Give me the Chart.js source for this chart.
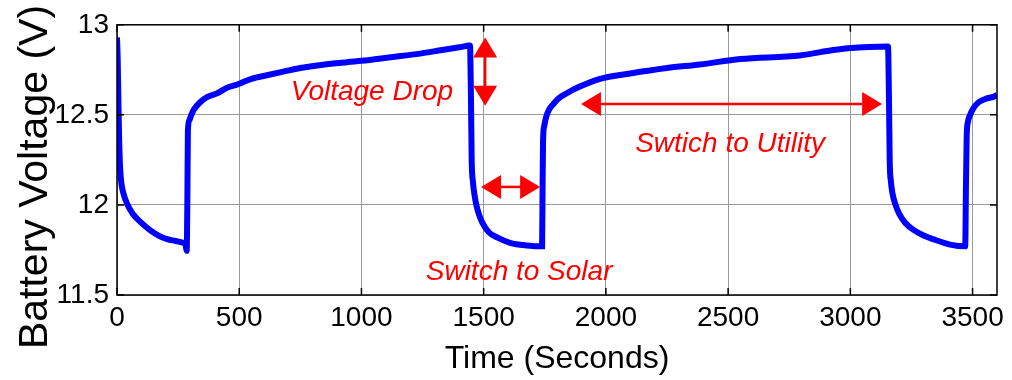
<!DOCTYPE html>
<html>
<head>
<meta charset="utf-8">
<script src="https://cdn.jsdelivr.net/npm/chart.js"></script>
<style>
  body { margin: 0; background: #fff; }
  #wrap { width: 1012px; height: 380px; }
</style>
</head>
<body>
<div id="wrap"><canvas id="my-chart" width="1012" height="380"></canvas></div>
<script>
"use strict";
// time axis in seconds, voltage
const timeSeconds = [
  0, 3, 6, 9, 13, 18, 25, 40, 65, 100, 135, 170, 205, 240, 270, 280, 285,
  288, 290, 296, 304, 315, 340, 370, 410, 450, 495, 550, 613, 680, 750, 850, 1000, 1120, 1240, 1330, 1400, 1444,
  1448, 1451, 1456, 1462, 1470, 1480, 1495, 1520, 1555, 1608, 1678, 1739,
  1741, 1743, 1748, 1756, 1768, 1785, 1805, 1840, 1882, 1976, 2100, 2250, 2385, 2550, 2794, 2930, 2990, 3154,
  3158, 3161, 3166, 3173, 3185, 3200, 3225, 3260, 3300, 3338, 3408, 3470,
  3473, 3476, 3481, 3490, 3505, 3525, 3555, 3585, 3600,
];
const batteryVoltage = [
  12.93, 12.8, 12.55, 12.35, 12.2, 12.12, 12.07, 12.01, 11.95, 11.9, 11.86, 11.83, 11.81, 11.8, 11.79, 11.78, 11.745,
  12.05, 12.41, 12.47, 12.5, 12.53, 12.57, 12.6, 12.62, 12.65, 12.67, 12.7, 12.72, 12.74, 12.76, 12.78, 12.8, 12.82, 12.84, 12.86, 12.875, 12.885,
  12.6, 12.25, 12.13, 12.06, 12.0, 11.95, 11.9, 11.85, 11.82, 11.79, 11.775, 11.77,
  12.1, 12.36, 12.44, 12.49, 12.53, 12.56, 12.59, 12.62, 12.65, 12.7, 12.73, 12.76, 12.78, 12.81, 12.83, 12.86, 12.87, 12.88,
  12.6, 12.25, 12.13, 12.06, 12.0, 11.95, 11.9, 11.86, 11.83, 11.81, 11.78, 11.77,
  12.1, 12.38, 12.46, 12.5, 12.54, 12.57, 12.59, 12.6, 12.61,
];
const xTicks = [0, 500, 1000, 1500, 2000, 2500, 3000, 3500];
const yTicks = [11.5, 12, 12.5, 13];
const yTitle = "Battery Voltage (V)";

// annotations in data units
const labelTexts = ["Voltage Drop", "Switch to Solar", "Swtich to Utility"];
const labelX = [1043, 1645, 2508];
const labelY = [12.625, 11.625, 12.337];
// double arrows: [x1, y1, x2, y2]
const arrows = [
  [1506, 12.93, 1506, 12.55],
  [1489, 12.1, 1731, 12.1],
  [1898, 12.56, 3130, 12.56],
];

const points = [];
for (let i = 0; i < timeSeconds.length; i++) {
  points.push({ x: timeSeconds[i], y: batteryVoltage[i] });
}

const FONT = "'Liberation Sans', Arial, Helvetica, sans-serif";

function arrowHead(ctx, x, y, ang) {
  const len = 20;
  const half = 12;
  ctx.beginPath();
  ctx.moveTo(x, y);
  ctx.lineTo(x - len * Math.cos(ang) + half * Math.sin(ang), y - len * Math.sin(ang) - half * Math.cos(ang));
  ctx.lineTo(x - len * Math.cos(ang) - half * Math.sin(ang), y - len * Math.sin(ang) + half * Math.cos(ang));
  ctx.closePath();
  ctx.fill();
}

const boxPlugin = {
  id: "box",
  afterDraw(chart) {
    const ctx = chart.ctx;
    const a = chart.chartArea;
    const xs = chart.scales.x;
    const ys = chart.scales.y;
    ctx.save();

    // annotations
    ctx.strokeStyle = "#ff0000";
    ctx.fillStyle = "#ff0000";
    ctx.lineWidth = 2.5;
    for (let i = 0; i < arrows.length; i++) {
      const x1 = xs.getPixelForValue(arrows[i][0]);
      const y1 = ys.getPixelForValue(arrows[i][1]);
      const x2 = xs.getPixelForValue(arrows[i][2]);
      const y2 = ys.getPixelForValue(arrows[i][3]);
      const ang = Math.atan2(y2 - y1, x2 - x1);
      ctx.beginPath();
      ctx.moveTo(x1 + 15 * Math.cos(ang), y1 + 15 * Math.sin(ang));
      ctx.lineTo(x2 - 15 * Math.cos(ang), y2 - 15 * Math.sin(ang));
      ctx.stroke();
      arrowHead(ctx, x2, y2, ang);
      arrowHead(ctx, x1, y1, ang + Math.PI);
    }
    ctx.font = "italic 28px " + FONT;
    ctx.textAlign = "center";
    ctx.textBaseline = "middle";
    for (let i = 0; i < labelTexts.length; i++) {
      ctx.fillText(labelTexts[i], xs.getPixelForValue(labelX[i]), ys.getPixelForValue(labelY[i]));
    }

    // y axis title, sits a bit lower than the plot centre
    ctx.fillStyle = "#000";
    ctx.font = "41px " + FONT;
    ctx.translate(36, 177);
    ctx.rotate(-Math.PI / 2);
    ctx.fillText(yTitle, 0, 0);
    ctx.setTransform(1, 0, 0, 1, 0, 0);

    // axes box with inward ticks
    ctx.strokeStyle = "#000";
    ctx.lineWidth = 1.5;
    ctx.strokeRect(a.left, a.top, a.right - a.left, a.bottom - a.top);
    ctx.beginPath();
    for (let i = 0; i < xTicks.length; i++) {
      const px = xs.getPixelForValue(xTicks[i]);
      ctx.moveTo(px, a.bottom);
      ctx.lineTo(px, a.bottom - 7);
      ctx.moveTo(px, a.top);
      ctx.lineTo(px, a.top + 7);
    }
    for (let i = 0; i < yTicks.length; i++) {
      const py = ys.getPixelForValue(yTicks[i]);
      ctx.moveTo(a.left, py);
      ctx.lineTo(a.left + 7, py);
      ctx.moveTo(a.right, py);
      ctx.lineTo(a.right - 7, py);
    }
    ctx.stroke();
    ctx.restore();
  },
};

const ctx = document.getElementById("my-chart");
const myChart = new Chart(ctx, {
  type: "line",
  data: {
    datasets: [
      {
        data: points,
        borderColor: "#0000ff",
        borderWidth: 6,
        pointRadius: 0,
        cubicInterpolationMode: "monotone",
        fill: false,
      },
    ],
  },
  options: {
    responsive: false,
    animation: false,
    events: [],
    layout: { padding: { top: 19, right: 15, left: 0, bottom: 0 } },
    plugins: { legend: { display: false }, tooltip: { enabled: false } },
    scales: {
      x: {
        type: "linear",
        min: 0,
        max: 3600,
        afterFit(scale) { scale.height = 85; },
        afterBuildTicks(scale) { scale.ticks = xTicks.map((v) => ({ value: v })); },
        ticks: {
          color: "#000",
          padding: 6,
          maxRotation: 0,
          font: { size: 28, family: FONT },
          callback: (value) => String(value),
        },
        grid: { color: "#9a9a9a", lineWidth: 1, drawTicks: false },
        border: { display: false },
        title: {
          display: true,
          text: "Time (Seconds)",
          color: "#000",
          font: { size: 32, family: FONT },
          padding: { top: 0, bottom: 2 },
        },
      },
      y: {
        min: 11.5,
        max: 13,
        afterFit(scale) { scale.width = 117; },
        afterBuildTicks(scale) { scale.ticks = yTicks.map((v) => ({ value: v })); },
        ticks: {
          color: "#000",
          padding: 8,
          font: { size: 28, family: FONT },
          callback: (value) => String(value),
        },
        grid: { color: "#9a9a9a", lineWidth: 1, drawTicks: false },
        border: { display: false },
        title: { display: false },
      },
    },
  },
  plugins: [boxPlugin],
});
</script>
</body>
</html>
